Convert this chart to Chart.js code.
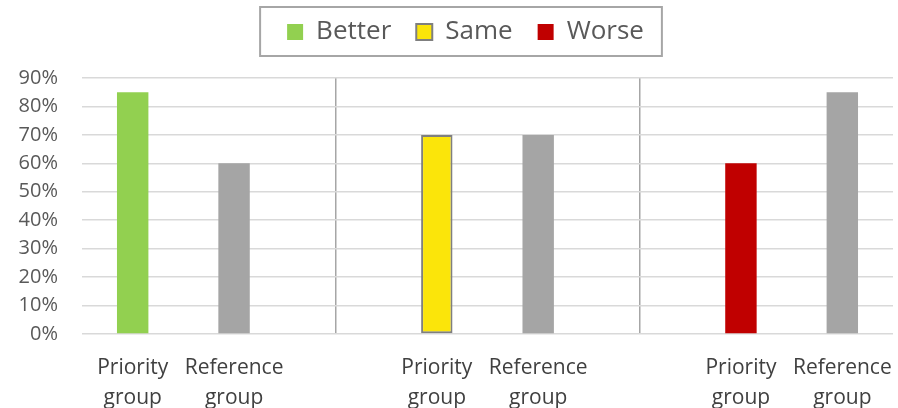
<!DOCTYPE html>
<html>
<head>
<meta charset="utf-8">
<script src="https://cdn.jsdelivr.net/npm/chart.js@4/dist/chart.umd.min.js"></script>
<style>
  html, body { margin: 0; padding: 0; background: #fff; }
  #wrap { width: 898px; height: 408px; }
</style>
</head>
<body>
<div id="wrap"><canvas id="outcomeChart"></canvas></div>
<script>
// categories: blank slots separate the three outcome groups
const categories = [
  ['Priority', 'group'], ['Reference', 'group'], '',
  ['Priority', 'group'], ['Reference', 'group'], '',
  ['Priority', 'group'], ['Reference', 'group']
];
const betterValues    = [85, null, null, null, null, null, null, null];
const sameValues      = [null, null, null, 70, null, null, null, null];
const worseValues     = [null, null, null, null, null, null, 60, null];
const referenceValues = [null, 60, null, null, 70, null, null, 85];
const yTicks = [0, 10, 20, 30, 40, 50, 60, 70, 80, 90];
const separatorIndexes = [2, 5];

const FONT = '"Open Sans", sans-serif';
const LEGEND_DX = 19;
const LEGEND_DY = -6;

// legend: extra room below it, nudged right, with a frame round the items
const legendFrame = {
  id: 'legendFrame',
  afterInit(chart) {
    const legend = chart.legend;
    const fit = legend.fit;
    legend.fit = function () {
      fit.call(this);
      this.height += 17;
    };
    const draw = legend.draw;
    legend.draw = function () {
      this.ctx.save();
      this.ctx.translate(LEGEND_DX, LEGEND_DY);
      draw.call(this);
      this.ctx.restore();
    };
  },
  afterDraw(chart) {
    const boxes = chart.legend.legendHitBoxes;
    if (!boxes || !boxes.length) return;
    const first = boxes[0], last = boxes[boxes.length - 1];
    const mid = first.top + first.height / 2 + LEGEND_DY;
    const left = first.left + LEGEND_DX - 27;
    const right = last.left + last.width + LEGEND_DX + 18;
    const ctx = chart.ctx;
    ctx.save();
    ctx.strokeStyle = '#a6a6a6';
    ctx.lineWidth = 2;
    ctx.strokeRect(left, mid - 25, right - left, 49);
    ctx.restore();
  }
};

new Chart('outcomeChart', {
  type: 'bar',
  data: {
    labels: categories,
    datasets: [
      { label: 'Better', data: betterValues, backgroundColor: '#92d050' },
      { label: 'Same', data: sameValues, backgroundColor: '#fbe50a',
        borderColor: '#7f7f7f', borderWidth: 2, borderSkipped: false },
      { label: 'Worse', data: worseValues, backgroundColor: '#c00000' },
      { label: 'Reference', data: referenceValues, backgroundColor: '#a5a5a5' }
    ]
  },
  options: {
    responsive: true,
    maintainAspectRatio: false,
    animation: false,
    grouped: false,
    categoryPercentage: 1,
    barPercentage: 0.31,
    layout: { padding: { left: 0, right: 5, top: 0, bottom: 0 } },
    plugins: {
      tooltip: { enabled: false },
      legend: {
        position: 'top',
        labels: {
          filter: item => item.text !== 'Reference',
          boxWidth: 16,
          boxHeight: 16,
          padding: 25,
          color: '#595959',
          font: { family: FONT, size: 26 }
        }
      }
    },
    scales: {
      x: {
        afterFit: scale => { scale.height = 74; },
        grid: {
          offset: false,
          drawTicks: true,
          tickLength: 19,
          tickColor: 'rgba(0,0,0,0)',
          color: c => separatorIndexes.includes(c.index) ? '#a6a6a6' : 'rgba(0,0,0,0)',
          lineWidth: 1.5
        },
        border: { display: false },
        ticks: {
          autoSkip: false,
          maxRotation: 0,
          padding: 0,
          color: '#404040',
          font: { family: FONT, size: 21, lineHeight: 1.42 }
        }
      },
      y: {
        min: 0,
        max: 90,
        afterFit: scale => { scale.width = 82; },
        afterBuildTicks: scale => { scale.ticks = yTicks.map(v => ({ value: v })); },
        grid: { drawTicks: false, color: '#d9d9d9', lineWidth: 1.5 },
        border: { display: false },
        ticks: {
          padding: 24,
          color: '#595959',
          font: { family: FONT, size: 20 },
          callback: v => v + '%'
        }
      }
    }
  },
  plugins: [legendFrame]
});
</script>
</body>
</html>
